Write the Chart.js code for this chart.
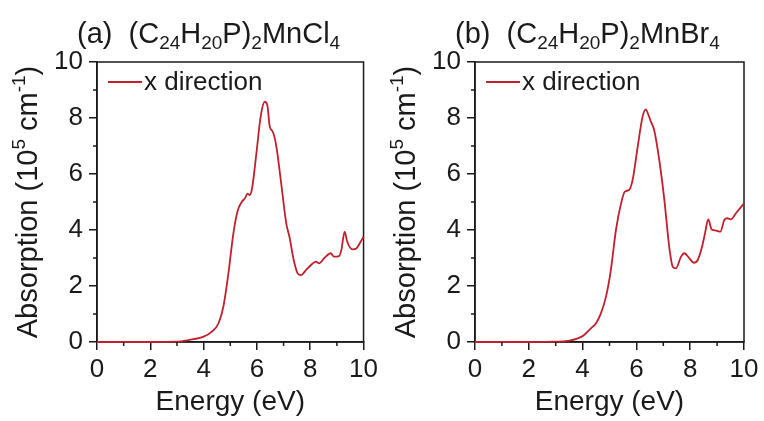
<!DOCTYPE html>
<html>
<head>
<meta charset="utf-8">
<script src="https://cdn.jsdelivr.net/npm/chart.js@4.4.1/dist/chart.umd.min.js"></script>
<style>
  body { margin: 0; background: #fff; }
  .wrap { display: flex; width: 764px; height: 421px; }
  canvas { display: block; }
</style>
</head>
<body>
<div class="wrap">
  <canvas id="chartA" width="382" height="421"></canvas>
  <canvas id="chartB" width="382" height="421"></canvas>
</div>
<script>
// (a) (C24H20P)2MnCl4 - x direction
var energyA = [0, 1, 2, 3, 3.44, 4.0, 4.31, 4.56, 4.74, 4.93, 5.12, 5.28, 5.43, 5.55, 5.65, 5.73, 5.82, 5.98, 6.14, 6.29, 6.39, 6.48, 6.6, 6.73, 6.91, 7.1, 7.22, 7.38, 7.53, 7.66, 7.84, 8.03, 8.21, 8.34, 8.52, 8.77, 8.89, 9.08, 9.17, 9.29, 9.39, 9.58, 9.74, 9.89, 10];
var absA    = [0, 0, 0, 0.01, 0.07, 0.19, 0.37, 0.67, 1.26, 2.45, 3.9, 4.7, 5.0, 5.13, 5.3, 5.25, 5.5, 6.74, 8.05, 8.58, 8.46, 7.7, 7.5, 6.98, 5.67, 4.24, 3.76, 2.93, 2.45, 2.39, 2.57, 2.75, 2.87, 2.81, 2.99, 3.17, 3.05, 3.07, 3.29, 3.94, 3.58, 3.31, 3.35, 3.58, 3.76];

// (b) (C24H20P)2MnBr4 - x direction
var energyB = [0, 1, 2, 3, 3.44, 4.0, 4.31, 4.5, 4.68, 4.87, 5.05, 5.24, 5.43, 5.57, 5.73, 5.86, 6.04, 6.23, 6.35, 6.45, 6.54, 6.66, 6.85, 7.04, 7.22, 7.35, 7.47, 7.66, 7.78, 7.97, 8.13, 8.28, 8.44, 8.55, 8.67, 8.8, 8.96, 9.12, 9.27, 9.37, 9.51, 9.7, 10];
var absB    = [0, 0, 0, 0.01, 0.04, 0.21, 0.49, 0.67, 1.02, 1.62, 2.57, 4.0, 4.95, 5.37, 5.43, 5.79, 6.92, 8.05, 8.31, 8.1, 7.87, 7.57, 6.5, 5.07, 3.4, 2.69, 2.63, 3.05, 3.17, 2.99, 2.83, 2.93, 3.4, 3.88, 4.38, 4.02, 3.98, 3.94, 4.36, 4.42, 4.38, 4.6, 4.95];

var xTicks = [0, 2, 4, 6, 8, 10];
var yTicks = [0, 2, 4, 6, 8, 10];
var minorTicks = [1, 3, 5, 7, 9];
var seriesName = 'x direction';

var FONT = "'Liberation Sans', Arial, sans-serif";
var INK = '#1a1a1a';
var RED = '#c0202c';
Chart.defaults.font.family = FONT;

// draws text with sub/superscript pieces
function richText(ctx, parts, x, y, size, align) {
    var small = Math.round(size * 0.66);
    var w = 0, i;
    for (i = 0; i < parts.length; i++) {
        ctx.font = (parts[i][1] ? small : size) + 'px ' + FONT;
        w += ctx.measureText(parts[i][0]).width;
    }
    var cx = align === 'center' ? x - w / 2 : x;
    ctx.textAlign = 'left';
    ctx.textBaseline = 'alphabetic';
    for (i = 0; i < parts.length; i++) {
        var p = parts[i];
        ctx.font = (p[1] ? small : size) + 'px ' + FONT;
        var dy = p[1] === 'sup' ? -size * 0.42 : (p[1] === 'sub' ? size * 0.22 : 0);
        ctx.fillText(p[0], cx, y + dy);
        cx += ctx.measureText(p[0]).width;
    }
}

function makeChart(id, xs, ys, titleParts, titleX, plotLeft, plotRight) {
    var pts = [];
    for (var i = 0; i < xs.length; i++) pts.push({x: xs[i], y: ys[i]});

    var decor = {
        id: 'decor',
        beforeDatasetsDraw: function(chart) {
            // box round the plot, under the curve
            var ctx = chart.ctx, a = chart.chartArea;
            ctx.save();
            ctx.strokeStyle = INK;
            ctx.lineWidth = 1.5;
            ctx.strokeRect(a.left, a.top, a.right - a.left, a.bottom - a.top);
            ctx.restore();
        },
        afterDraw: function(chart) {
            var ctx = chart.ctx, a = chart.chartArea;
            var sx = chart.scales.x, sy = chart.scales.y;
            ctx.save();
            // minor ticks
            ctx.strokeStyle = INK;
            ctx.lineWidth = 1.5;
            ctx.beginPath();
            minorTicks.forEach(function(v) {
                var px = sx.getPixelForValue(v);
                ctx.moveTo(px, a.bottom); ctx.lineTo(px, a.bottom + 4);
                var py = sy.getPixelForValue(v);
                ctx.moveTo(a.left, py); ctx.lineTo(a.left - 4, py);
            });
            ctx.stroke();
            // legend
            ctx.strokeStyle = RED;
            ctx.lineWidth = 2;
            ctx.beginPath();
            ctx.moveTo(a.left + 11, 82); ctx.lineTo(a.left + 45, 82);
            ctx.stroke();
            ctx.fillStyle = INK;
            ctx.font = '26px ' + FONT;
            ctx.textAlign = 'left';
            ctx.textBaseline = 'alphabetic';
            ctx.fillText(seriesName, a.left + 47, 90);
            // title
            richText(ctx, titleParts, titleX, 43, 29, 'left');
            // y axis title
            ctx.translate(a.left - 70, (a.top + a.bottom) / 2);
            ctx.rotate(-Math.PI / 2);
            richText(ctx, [['Absorption (10', ''], ['5', 'sup'], [' cm', ''], ['-1', 'sup'], [')', '']], 0, 10, 29, 'center');
            ctx.restore();
        }
    };

    return new Chart(document.getElementById(id), {
        type: 'line',
        data: {
            datasets: [{
                label: seriesName,
                data: pts,
                borderColor: RED,
                borderWidth: 1.8,
                pointRadius: 0,
                cubicInterpolationMode: 'monotone',
                fill: false,
                clip: 3
            }]
        },
        options: {
            responsive: false,
            animation: false,
            layout: { padding: { top: 62, right: 382 - plotRight, left: 0, bottom: 0 } },
            plugins: { legend: { display: false }, tooltip: { enabled: false } },
            scales: {
                x: {
                    type: 'linear', min: 0, max: 10,
                    afterBuildTicks: function(s) { s.ticks = xTicks.map(function(v) { return {value: v}; }); },
                    afterFit: function(s) { s.height = 421 - 342; },
                    ticks: { color: INK, font: { size: 26 }, padding: 4, maxRotation: 0 },
                    grid: { drawOnChartArea: false, tickLength: 8, color: INK, lineWidth: 1.5 },
                    border: { color: INK, width: 1.5 },
                    title: { display: true, text: 'Energy (eV)', color: INK, font: { size: 28 }, padding: { top: 0, bottom: 2 } }
                },
                y: {
                    min: 0, max: 10,
                    afterBuildTicks: function(s) { s.ticks = yTicks.map(function(v) { return {value: v}; }); },
                    afterFit: function(s) { s.width = plotLeft; },
                    ticks: { color: INK, font: { size: 26 }, padding: 6 },
                    grid: { drawOnChartArea: false, tickLength: 8, color: INK, lineWidth: 1.5 },
                    border: { color: INK, width: 1.5 }
                }
            }
        },
        plugins: [decor]
    });
}

makeChart('chartA', energyA, absA,
    [['(a)  (C', ''], ['24', 'sub'], ['H', ''], ['20', 'sub'], ['P)', ''], ['2', 'sub'], ['MnCl', ''], ['4', 'sub']],
    77, 97, 366);
makeChart('chartB', energyB, absB,
    [['(b)  (C', ''], ['24', 'sub'], ['H', ''], ['20', 'sub'], ['P)', ''], ['2', 'sub'], ['MnBr', ''], ['4', 'sub']],
    73, 93, 362);
</script>
</body>
</html>
